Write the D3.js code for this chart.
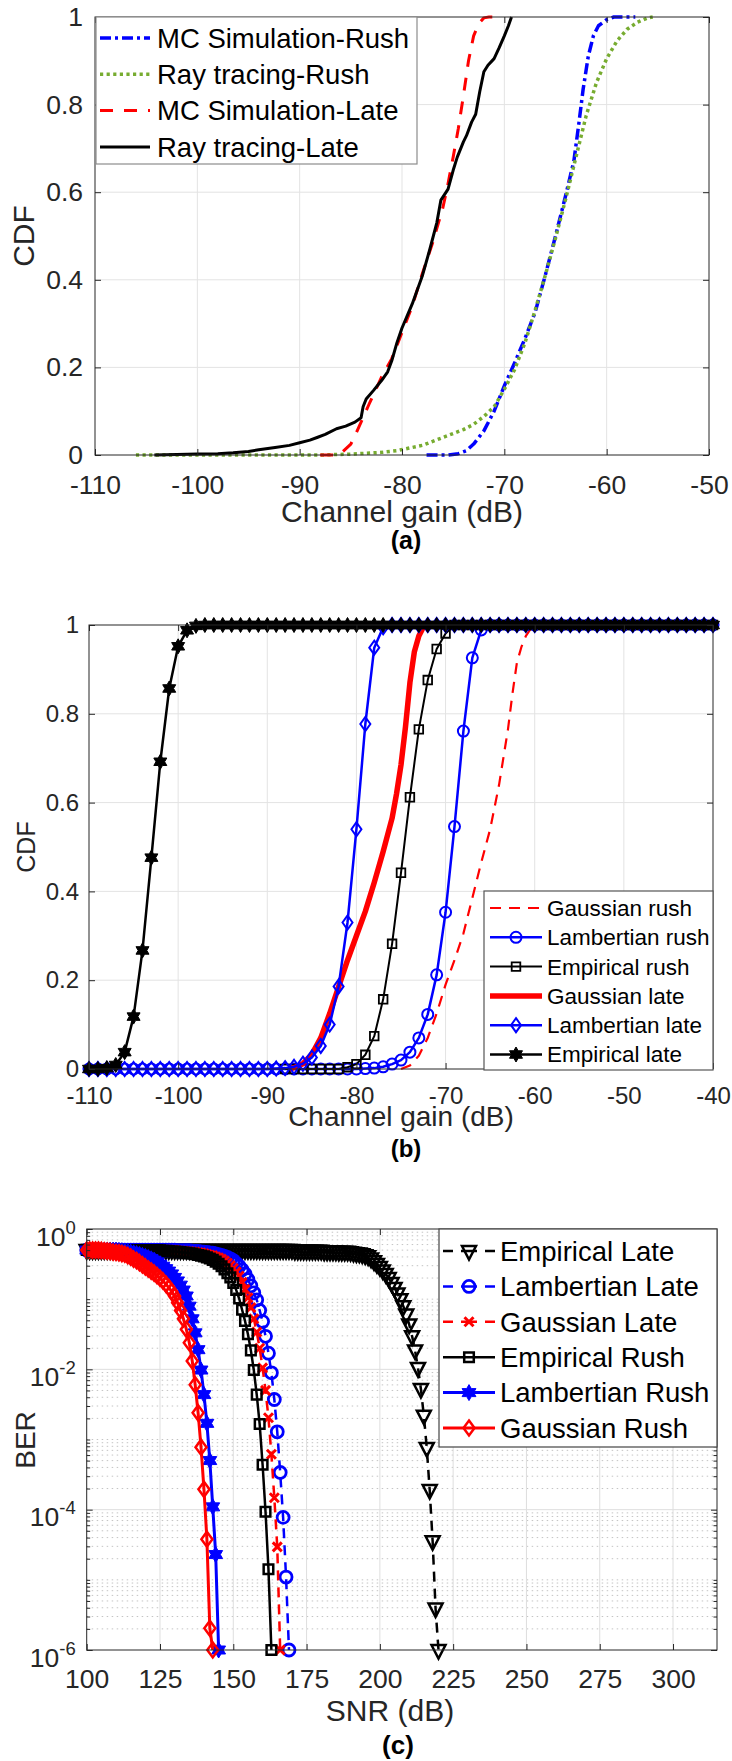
<!DOCTYPE html>
<html>
<head>
<meta charset="utf-8">
<script src="https://cdn.jsdelivr.net/npm/d3@7"></script>
<style>
  body { margin: 0; background: #fff; }
  svg { display: block; }
</style>
</head>
<body>
<script>
// ---------- (a) CDF of channel gain: MC simulation vs ray tracing ----------
const gainTicksA = [-110, -100, -90, -80, -70, -60, -50];
const cdfTicks = [0, 0.2, 0.4, 0.6, 0.8, 1];

const mcRushGain = [-77.6, -75.5, -74.5, -73.7, -73, -72, -71, -70, -69, -68, -67, -66, -65, -64, -63.2, -62.7, -62.3, -61.8, -61.3, -60.8, -60, -59.3, -57.2];
const mcRushCdf  = [0, 0, 0.003, 0.01, 0.025, 0.055, 0.1, 0.158, 0.21, 0.265, 0.325, 0.41, 0.5, 0.593, 0.672, 0.76, 0.835, 0.91, 0.957, 0.98, 0.994, 1, 1];

const rtRushGain = [-106, -95, -88, -85, -82, -80.5, -78, -76, -74, -73, -72, -71, -70, -69, -68, -67, -66, -65, -64, -63, -62, -61, -60, -59, -58, -57, -56, -55.5];
const rtRushCdf  = [0, 0, 0, 0.002, 0.006, 0.01, 0.022, 0.04, 0.058, 0.07, 0.088, 0.11, 0.15, 0.195, 0.255, 0.33, 0.41, 0.495, 0.585, 0.68, 0.775, 0.85, 0.905, 0.945, 0.972, 0.988, 0.998, 1];

const mcLateGain = [-88, -86.5, -86, -85, -84.6, -84, -83.2, -82, -81, -80, -79, -78, -77, -76, -75.5, -75, -74.5, -74, -73.5, -73, -72.5, -72, -71.5, -71];
const mcLateCdf  = [0, 0, 0.003, 0.025, 0.044, 0.075, 0.117, 0.178, 0.22, 0.28, 0.34, 0.415, 0.485, 0.565, 0.62, 0.68, 0.745, 0.82, 0.9, 0.957, 0.985, 0.998, 1, 1];

const rtLateGain = [-104.2, -102, -100, -98, -96.5, -95, -94, -92.4, -91, -90, -89, -88.3, -87.5, -86.4, -85.5, -84.6, -84, -83.8, -83.5, -82.8, -82, -81.4, -81, -80.5, -80, -79, -78, -77.3, -76.6, -76.2, -75.5, -75, -74.6, -74, -73.7, -73.2, -72.8, -72.4, -72, -71.6, -71, -70.5, -70, -69.6, -69.3];
const rtLateCdf  = [0, 0.001, 0.002, 0.003, 0.005, 0.008, 0.012, 0.017, 0.022, 0.028, 0.034, 0.04, 0.047, 0.06, 0.066, 0.075, 0.085, 0.11, 0.128, 0.147, 0.17, 0.19, 0.215, 0.256, 0.29, 0.345, 0.41, 0.468, 0.53, 0.582, 0.607, 0.65, 0.68, 0.715, 0.729, 0.76, 0.778, 0.83, 0.875, 0.89, 0.905, 0.93, 0.957, 0.98, 1];

// ---------- (b) CDF models: Gaussian / Lambertian / empirical ----------
const gainTicksB = [-110, -100, -90, -80, -70, -60, -50, -40];
const markerGainStart = -110;   // marker series sampled every 1 dB from here

const lambRushCdf = [
  0, 0, 0, 0, 0, 0, 0, 0, 0, 0,
  0, 0, 0, 0, 0, 0, 0, 0, 0, 0,
  0, 0, 0, 0, 0, 0, 0, 0, 0, 0,
  0, 0.001, 0.002, 0.005, 0.011, 0.020, 0.038, 0.070, 0.123, 0.212,
  0.353, 0.546, 0.761, 0.926, 0.989, 1, 1, 1, 1, 1,
  1, 1, 1, 1, 1, 1, 1, 1, 1, 1,
  1, 1, 1, 1, 1, 1, 1, 1, 1, 1,
  1
];
const empRushStart = -88;
const empRushCdf = [
  0, 0, 0, 0, 0, 0, 0, 0.004, 0.011, 0.032,
  0.074, 0.157, 0.282, 0.442, 0.612, 0.765, 0.876, 0.946, 0.981, 1,
  1, 1, 1, 1, 1, 1, 1, 1, 1, 1,
  1, 1, 1, 1, 1, 1, 1, 1, 1, 1,
  1, 1, 1, 1, 1, 1, 1, 1, 1
];
const lambLateCdf = [
  0, 0, 0, 0, 0, 0, 0, 0, 0, 0,
  0, 0, 0, 0, 0, 0, 0, 0, 0, 0,
  0, 0.001, 0.002, 0.005, 0.012, 0.026, 0.052, 0.10, 0.186, 0.33,
  0.54, 0.777, 0.949, 0.995, 1, 1, 1, 1, 1, 1,
  1, 1, 1, 1, 1, 1, 1, 1, 1, 1,
  1, 1, 1, 1, 1, 1, 1, 1, 1, 1,
  1, 1, 1, 1, 1, 1, 1, 1, 1, 1,
  1
];
const empLateCdf = [
  0, 0, 0.002, 0.009, 0.038, 0.118, 0.267, 0.476, 0.692, 0.857,
  0.952, 0.988, 0.998, 1, 1, 1, 1, 1, 1, 1,
  1, 1, 1, 1, 1, 1, 1, 1, 1, 1,
  1, 1, 1, 1, 1, 1, 1, 1, 1, 1,
  1, 1, 1, 1, 1, 1, 1, 1, 1, 1,
  1, 1, 1, 1, 1, 1, 1, 1, 1, 1,
  1, 1, 1, 1, 1, 1, 1, 1, 1, 1,
  1
];
const gaussRushGain = [-75, -74, -73, -72, -71, -70, -69, -68, -67, -66, -65, -64, -63, -62.5, -62, -61.5, -61, -60.5, -60, -40];
const gaussRushCdf  = [0, 0.008, 0.03, 0.07, 0.125, 0.19, 0.245, 0.305, 0.385, 0.465, 0.54, 0.64, 0.765, 0.845, 0.915, 0.95, 0.975, 0.99, 1, 1];
const gaussLateGain = [-87.5, -87, -86, -85, -84, -83, -82, -81, -80, -79, -78, -77, -76, -75.5, -75, -74.5, -74, -73.5, -73, -72.5, -72, -40];
const gaussLateCdf  = [0, 0.003, 0.012, 0.033, 0.07, 0.125, 0.185, 0.245, 0.3, 0.355, 0.42, 0.49, 0.565, 0.62, 0.685, 0.77, 0.87, 0.94, 0.975, 0.995, 1, 1];

// ---------- (c) BER versus SNR (values are log10 of BER, one per dB) ----------
const snrTicks = [100, 125, 150, 175, 200, 225, 250, 275, 300];
const berTicks = [1, 1e-2, 1e-4, 1e-6];
const snrStart = 100;

const empLateLogBer = [
  -0.30, -0.30, -0.30, -0.30, -0.30, -0.30, -0.30, -0.30, -0.30, -0.30,
  -0.30, -0.30, -0.30, -0.30, -0.30, -0.30, -0.30, -0.30, -0.30, -0.30,
  -0.30, -0.30, -0.30, -0.30, -0.30, -0.30, -0.30, -0.30, -0.30, -0.30,
  -0.30, -0.30, -0.30, -0.30, -0.30, -0.30, -0.30, -0.30, -0.30, -0.30,
  -0.30, -0.30, -0.30, -0.30, -0.30, -0.30, -0.30, -0.30, -0.30, -0.30,
  -0.30, -0.30, -0.30, -0.30, -0.30, -0.30, -0.30, -0.30, -0.30, -0.30,
  -0.30, -0.30, -0.30, -0.30, -0.30, -0.30, -0.30, -0.30, -0.30, -0.30,
  -0.30, -0.31, -0.31, -0.31, -0.31, -0.31, -0.31, -0.31, -0.31, -0.31,
  -0.31, -0.32, -0.32, -0.32, -0.32, -0.32, -0.325, -0.325, -0.325, -0.325,
  -0.33, -0.34, -0.345, -0.35, -0.36, -0.375, -0.39, -0.42, -0.46, -0.50,
  -0.54, -0.59, -0.64, -0.70, -0.77, -0.84, -0.92, -1.0, -1.10, -1.22,
  -1.36, -1.53, -1.73, -1.98, -2.28, -2.66, -3.12, -3.72, -4.45, -5.41,
  -6
];
const lambLateLogBer = [
  -0.30, -0.30, -0.30, -0.30, -0.30, -0.30, -0.30, -0.30, -0.30, -0.30,
  -0.30, -0.30, -0.30, -0.30, -0.30, -0.30, -0.30, -0.30, -0.30, -0.30,
  -0.30, -0.30, -0.30, -0.30, -0.30, -0.30, -0.30, -0.30, -0.30, -0.30,
  -0.30, -0.31, -0.31, -0.31, -0.31, -0.31, -0.315, -0.32, -0.32, -0.325,
  -0.33, -0.335, -0.34, -0.345, -0.355, -0.365, -0.375, -0.39, -0.405, -0.425,
  -0.45, -0.49, -0.53, -0.58, -0.64, -0.72, -0.81, -0.91, -1.01, -1.16,
  -1.32, -1.53, -1.77, -2.05, -2.43, -2.89, -3.47, -4.11, -4.96, -6
];
const gaussLateLogBer = [
  -0.30, -0.30, -0.30, -0.30, -0.30, -0.30, -0.30, -0.30, -0.30, -0.30,
  -0.30, -0.30, -0.30, -0.30, -0.30, -0.30, -0.30, -0.30, -0.30, -0.30,
  -0.30, -0.30, -0.30, -0.30, -0.30, -0.30, -0.30, -0.30, -0.30, -0.30,
  -0.305, -0.31, -0.31, -0.315, -0.32, -0.32, -0.325, -0.33, -0.335, -0.34,
  -0.35, -0.36, -0.37, -0.38, -0.395, -0.41, -0.43, -0.455, -0.485, -0.52,
  -0.56, -0.61, -0.67, -0.76, -0.86, -0.98, -1.12, -1.28, -1.47, -1.70,
  -1.98, -2.30, -2.69, -3.21, -3.83, -4.53, -6
];
const empRushLogBer = [
  -0.30, -0.30, -0.30, -0.30, -0.30, -0.30, -0.30, -0.30, -0.30, -0.30,
  -0.30, -0.30, -0.30, -0.30, -0.30, -0.30, -0.30, -0.30, -0.30, -0.30,
  -0.30, -0.30, -0.30, -0.30, -0.30, -0.305, -0.31, -0.31, -0.315, -0.32,
  -0.32, -0.325, -0.33, -0.335, -0.34, -0.345, -0.35, -0.36, -0.37, -0.38,
  -0.39, -0.405, -0.42, -0.44, -0.465, -0.495, -0.53, -0.575, -0.63, -0.69,
  -0.77, -0.87, -0.99, -1.15, -1.31, -1.50, -1.73, -2.01, -2.36, -2.78,
  -3.36, -4.03, -4.85, -6
];
const lambRushLogBer = [
  -0.30, -0.30, -0.30, -0.30, -0.30, -0.30, -0.30, -0.30, -0.30, -0.30,
  -0.30, -0.305, -0.31, -0.315, -0.32, -0.33, -0.34, -0.35, -0.36, -0.375,
  -0.39, -0.405, -0.425, -0.445, -0.47, -0.50, -0.53, -0.565, -0.60, -0.64,
  -0.69, -0.74, -0.80, -0.87, -0.955, -1.10, -1.28, -1.48, -1.72, -2.01,
  -2.36, -2.77, -3.30, -3.96, -4.64, -6
];
const gaussRushLogBer = [
  -0.30, -0.30, -0.30, -0.30, -0.30, -0.305, -0.31, -0.315, -0.32, -0.33,
  -0.335, -0.34, -0.35, -0.36, -0.38, -0.40, -0.43, -0.45, -0.48, -0.51,
  -0.54, -0.57, -0.60, -0.63, -0.665, -0.70, -0.74, -0.785, -0.835, -0.89,
  -0.96, -1.05, -1.16, -1.28, -1.43, -1.62, -1.88, -2.22, -2.62, -3.11,
  -3.71, -4.42, -5.69, -6
];

// ---------- shared drawing helpers ----------
const FONT = '"Liberation Sans", Arial, Helvetica, sans-serif';
const INK = "#262626";
const BLUE = "#0000ff", RED = "#ff0000", BLACK = "#000000", GREEN = "#77ac30";

const svg = d3.select("body").append("svg")
  .attr("width", 732).attr("height", 1761)
  .attr("font-family", FONT);
svg.append("rect").attr("width", 732).attr("height", 1761).attr("fill", "#fff");

const pairs = (xs, ys) => xs.map((v, i) => [v, ys[i]]);
const stepped = (start, ys) => ys.map((v, i) => [start + i, v]);
const plain = d => String(d);   // hyphen-minus, as in the printed axes

function hexagram(R) {
  const r = R * 0.5774, p = [];
  for (let i = 0; i < 12; i++) {
    const a = -Math.PI / 2 + i * Math.PI / 6, k = i % 2 ? r : R;
    p.push((k * Math.cos(a)).toFixed(2) + "," + (k * Math.sin(a)).toFixed(2));
  }
  return "M" + p.join("L") + "Z";
}
function markerPath(m) {
  switch (m.shape) {
    case "circle": { const r = m.size; return `M${-r},0A${r},${r} 0 1,0 ${r},0A${r},${r} 0 1,0 ${-r},0Z`; }
    case "square": { const s = m.size; return `M${-s},${-s}H${s}V${s}H${-s}Z`; }
    case "diamond": return `M0,${-m.h}L${m.w},0L0,${m.h}L${-m.w},0Z`;
    case "tri": return `M${-m.w},${-m.top}L${m.w},${-m.top}L0,${m.bot}Z`;
    case "x": { const s = m.size; return `M${-s},${-s}L${s},${s}M${-s},${s}L${s},${-s}`; }
    case "hex": return hexagram(m.size);
  }
}
function drawMarkers(g, pts, s, x, y) {
  g.append("g").selectAll("path").data(pts).join("path")
    .attr("transform", d => `translate(${x(d[0])},${y(d[1])})`)
    .attr("d", markerPath(s.marker))
    .attr("fill", s.marker.fill ? s.color : "none")
    .attr("stroke", s.color)
    .attr("stroke-width", s.marker.stroke);
}
function drawSeries(g, s, x, y) {
  const line = d3.line().x(d => x(d[0])).y(d => y(d[1]));
  g.append("path").datum(s.pts).attr("d", line)
    .attr("fill", "none").attr("stroke", s.color)
    .attr("stroke-width", s.width)
    .attr("stroke-dasharray", s.dash || null)
    .attr("stroke-linejoin", "round");
  if (s.marker) drawMarkers(g, s.pts, s, x, y);
}
function drawGrid(g, x, y, xt, yt, color) {
  const [x0, x1] = x.range(), [y0, y1] = y.range();
  g.append("g").selectAll("line").data(xt.filter(v => x(v) > x0 + 1 && x(v) < x1 - 1)).join("line")
    .attr("x1", d => x(d)).attr("x2", d => x(d)).attr("y1", y1).attr("y2", y0)
    .attr("stroke", color).attr("stroke-width", 1);
  g.append("g").selectAll("line").data(yt.filter(v => y(v) < y0 - 1 && y(v) > y1 + 1)).join("line")
    .attr("y1", d => y(d)).attr("y2", d => y(d)).attr("x1", x0).attr("x2", x1)
    .attr("stroke", color).attr("stroke-width", 1);
}
function drawFrame(g, x, y, o) {
  const [x0, x1] = x.range(), [y0, y1] = y.range();
  const style = sel => {
    sel.select(".domain").remove();
    sel.attr("font-family", FONT).attr("font-size", o.tickFont);
    sel.selectAll("line").attr("stroke", INK);
    sel.selectAll("text").attr("fill", INK);
  };
  g.append("g").attr("transform", `translate(0,${y0})`)
    .call(d3.axisBottom(x).tickValues(o.xt).tickSizeInner(-6).tickSizeOuter(0).tickPadding(o.xPad).tickFormat(plain))
    .call(style);
  g.append("g").attr("transform", `translate(0,${y1})`)
    .call(d3.axisTop(x).tickValues(o.xt).tickSizeInner(-6).tickSizeOuter(0).tickFormat(""))
    .call(style);
  const left = g.append("g").attr("transform", `translate(${x0},0)`)
    .call(d3.axisLeft(y).tickValues(o.yt).tickSizeInner(-6).tickSizeOuter(0).tickPadding(o.yPad).tickFormat(o.yFmt || plain))
    .call(style);
  g.append("g").attr("transform", `translate(${x1},0)`)
    .call(d3.axisRight(y).tickValues(o.yt).tickSizeInner(-6).tickSizeOuter(0).tickFormat(""))
    .call(style);
  g.append("rect").attr("x", x0).attr("y", y1).attr("width", x1 - x0).attr("height", y0 - y1)
    .attr("fill", "none").attr("stroke", INK).attr("stroke-width", 1);
  return left;
}
function drawLegend(g, rows, o) {
  g.append("rect").attr("x", o.x).attr("y", o.y).attr("width", o.w).attr("height", o.h)
    .attr("fill", "#fff").attr("stroke", o.border).attr("stroke-width", 1.2);
  rows.forEach((s, i) => {
    const cy = o.row0 + i * o.step;
    g.append("line").attr("x1", o.lx0).attr("x2", o.lx1).attr("y1", cy).attr("y2", cy)
      .attr("stroke", s.color).attr("stroke-width", s.width)
      .attr("stroke-dasharray", s.legendDash || s.dash || null);
    if (s.marker) drawMarkers(g, [[0, 0]], s, () => (o.lx0 + o.lx1) / 2, () => cy);
    g.append("text").attr("x", o.tx).attr("y", cy + 0.355 * o.font)
      .attr("font-size", o.font).attr("fill", "#000").text(s.name);
  });
}
function label(g, txt, x, y, size, opts = {}) {
  const t = g.append("text").attr("x", x).attr("y", y).attr("font-size", size)
    .attr("text-anchor", "middle").attr("fill", opts.fill || INK).text(txt);
  if (opts.bold) t.attr("font-weight", "bold");
  if (opts.rotate) t.attr("transform", `rotate(-90,${x},${y})`);
  return t;
}

// ---------- panel (a) ----------
{
  const x = d3.scaleLinear().domain([-110, -50]).range([95, 709]);
  const y = d3.scaleLinear().domain([0, 1]).range([455, 17]);
  const g = svg.append("g");
  drawGrid(g, x, y, gainTicksA, cdfTicks, "#e3e3e3");
  const series = [
    { name: "MC Simulation-Rush", pts: pairs(mcRushGain, mcRushCdf), color: BLUE, width: 3.5, dash: "11,4,3,4" },
    { name: "Ray tracing-Rush", pts: pairs(rtRushGain, rtRushCdf), color: GREEN, width: 3.5, dash: "3.2,3.4" },
    { name: "MC Simulation-Late", pts: pairs(mcLateGain, mcLateCdf), color: RED, width: 3, dash: "13,11" },
    { name: "Ray tracing-Late", pts: pairs(rtLateGain, rtLateCdf), color: BLACK, width: 3 }
  ];
  series.forEach(s => drawSeries(g, s, x, y));
  drawFrame(g, x, y, { xt: gainTicksA, yt: cdfTicks, tickFont: 26.5, xPad: 20.5, yPad: 12 });
  drawLegend(g, series, { x: 96, y: 17, w: 321, h: 147, border: "#8c8c8c",
    row0: 38, step: 36.3, lx0: 100, lx1: 150, tx: 157, font: 27.5 });
  label(g, "Channel gain (dB)", 402, 522, 30);
  label(g, "CDF", 34, 236, 30, { rotate: true });
  label(g, "(a)", 406, 549, 25, { bold: true, fill: "#000" });
}

// ---------- panel (b) ----------
{
  const x = d3.scaleLinear().domain([-110, -40]).range([89, 713]);
  const y = d3.scaleLinear().domain([0, 1]).range([1069, 625]);
  const g = svg.append("g");
  drawGrid(g, x, y, gainTicksB, cdfTicks, "#e3e3e3");
  const series = [
    { name: "Gaussian rush", pts: pairs(gaussRushGain, gaussRushCdf), color: RED, width: 2.2, dash: "11,8", legendDash: "11,8" },
    { name: "Lambertian rush", pts: stepped(markerGainStart, lambRushCdf), color: BLUE, width: 2.5,
      marker: { shape: "circle", size: 5.5, stroke: 2 } },
    { name: "Empirical rush", pts: stepped(empRushStart, empRushCdf), color: BLACK, width: 2,
      marker: { shape: "square", size: 4.3, stroke: 1.8 } },
    { name: "Gaussian late", pts: pairs(gaussLateGain, gaussLateCdf), color: RED, width: 5.5 },
    { name: "Lambertian late", pts: stepped(markerGainStart, lambLateCdf), color: BLUE, width: 2.5,
      marker: { shape: "diamond", w: 5, h: 7, stroke: 2 } },
    { name: "Empirical late", pts: stepped(markerGainStart, empLateCdf), color: BLACK, width: 2.5,
      marker: { shape: "hex", size: 7.5, stroke: 1, fill: true } }
  ];
  series.forEach(s => drawSeries(g, s, x, y));
  drawFrame(g, x, y, { xt: gainTicksB, yt: cdfTicks, tickFont: 24, xPad: 17.5, yPad: 10 });
  drawLegend(g, series, { x: 484, y: 891, w: 229, h: 179, border: "#555",
    row0: 908, step: 29.3, lx0: 490, lx1: 542, tx: 547, font: 22.5 });
  label(g, "Channel gain (dB)", 401, 1126, 28);
  label(g, "CDF", 35, 847, 25, { rotate: true });
  label(g, "(b)", 406, 1157, 24, { bold: true, fill: "#000" });
}

// ---------- panel (c) ----------
{
  const x = d3.scaleLinear().domain([100, 315]).range([86.7, 717]);
  const y = d3.scaleLog().domain([1e-6, 1]).range([1650, 1229]);
  const g = svg.append("g");
  const [x0, x1] = x.range();
  // minor decade lines (dotted) and major grid
  const minor = [];
  for (let e = -6; e < 0; e++) for (let m = 2; m <= 10; m++) {
    const v = m * Math.pow(10, e);
    if (!berTicks.some(t => Math.abs(Math.log10(t) - Math.log10(v)) < 1e-9)) minor.push(v);
  }
  g.append("g").selectAll("line").data(minor).join("line")
    .attr("x1", x0).attr("x2", x1).attr("y1", d => y(d)).attr("y2", d => y(d))
    .attr("stroke", "#c4c4c4").attr("stroke-width", 1).attr("stroke-dasharray", "1.5,3.5");
  drawGrid(g, x, y, snrTicks, berTicks, "#dedede");

  const toPts = ys => ys.map((v, i) => [snrStart + i, Math.pow(10, v)]);
  const series = [
    { name: "Empirical Late", pts: toPts(empLateLogBer), color: BLACK, width: 2.5, dash: "10,7", legendDash: "10,8,16,8,10",
      marker: { shape: "tri", w: 7, top: 5, bot: 8.5, stroke: 2.5 } },
    { name: "Lambertian Late", pts: toPts(lambLateLogBer), color: BLUE, width: 2.5, dash: "10,7", legendDash: "10,8,16,8,10",
      marker: { shape: "circle", size: 6, stroke: 2.8 } },
    { name: "Gaussian Late", pts: toPts(gaussLateLogBer), color: RED, width: 2.5, dash: "10,7", legendDash: "10,8,16,8,10",
      marker: { shape: "x", size: 4.5, stroke: 3 } },
    { name: "Empirical Rush", pts: toPts(empRushLogBer), color: BLACK, width: 2.5,
      marker: { shape: "square", size: 4.8, stroke: 2.5 } },
    { name: "Lambertian Rush", pts: toPts(lambRushLogBer), color: BLUE, width: 3,
      marker: { shape: "hex", size: 8, stroke: 1, fill: true } },
    { name: "Gaussian Rush", pts: toPts(gaussRushLogBer), color: RED, width: 3,
      marker: { shape: "diamond", w: 5.5, h: 7.5, stroke: 2.5 } }
  ];
  series.forEach(s => drawSeries(g, s, x, y));

  const left = drawFrame(g, x, y, { xt: snrTicks, yt: berTicks, tickFont: 26.5, xPad: 19.5, yPad: 11, yFmt: () => "" });
  // minor ticks on both vertical sides
  g.append("g").attr("transform", `translate(${x0},0)`)
    .call(d3.axisLeft(y).tickValues(minor).tickSizeInner(-3.5).tickSizeOuter(0).tickFormat(""))
    .call(s => { s.select(".domain").remove(); s.selectAll("line").attr("stroke", INK); });
  g.append("g").attr("transform", `translate(${x1},0)`)
    .call(d3.axisRight(y).tickValues(minor).tickSizeInner(-3.5).tickSizeOuter(0).tickFormat(""))
    .call(s => { s.select(".domain").remove(); s.selectAll("line").attr("stroke", INK); });
  // power-of-ten tick labels
  left.selectAll(".tick text").each(function (d) {
    const t = d3.select(this).attr("dy", null).attr("x", -11).attr("y", 16).attr("text-anchor", "end");
    t.append("tspan").text("10");
    t.append("tspan").attr("font-size", 18.5).attr("dy", -12).text(String(Math.round(Math.log10(d))));
  });

  drawLegend(g, series, { x: 439, y: 1229, w: 278, h: 218, border: "#444",
    row0: 1251, step: 35.4, lx0: 443, lx1: 495, tx: 500, font: 27.5 });
  label(g, "SNR (dB)", 390, 1721, 30);
  label(g, "BER", 35, 1440, 28, { rotate: true });
  label(g, "(c)", 398, 1754, 26, { bold: true, fill: "#000" });
}
</script>
</body>
</html>
